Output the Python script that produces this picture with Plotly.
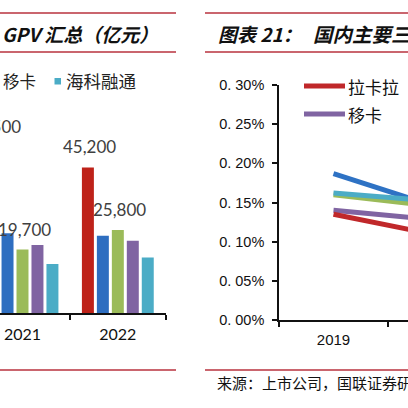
import plotly.graph_objects as go

W = H = 408

# ---------- Left chart: GPV 汇总（亿元） ----------
gpv_years = ["2021", "2022"]
gpv_names = ["拉卡拉", "汇付天下", "随行付", "移卡", "海科融通"]
gpv_lakala = [51500, 45200]
gpv_huifu = [24800, 24000]
gpv_suixingfu = [19700, 25800]
gpv_yika = [21100, 22400]
gpv_haike = [15200, 17200]
gpv_series = [gpv_lakala, gpv_huifu, gpv_suixingfu, gpv_yika, gpv_haike]
gpv_colors = ["#BE2219", "#2E6EC0", "#9BBB59", "#8064A2", "#4BACC6"]
gpv_labeled = [True, False, True, False, False]

# ---------- Right chart: 国内主要三方支付机构费率 ----------
rate_years = ["2019", "2020"]
rate_names = ["汇付天下", "随行付", "海科融通", "移卡", "拉卡拉"]
rate_huifu = [0.187, 0.142]
rate_suixingfu = [0.160, 0.144]
rate_haike = [0.162, 0.151]
rate_yika = [0.140, 0.127]
rate_lakala = [0.135, 0.107]
rate_series = [rate_huifu, rate_suixingfu, rate_haike, rate_yika, rate_lakala]
rate_colors = ["#2E72C4", "#9BBB59", "#4BACC6", "#8064A2", "#C0282A"]
rate_tickvals = [0, 0.05, 0.10, 0.15, 0.20, 0.25, 0.30]
rate_ticktext = ["0. 00%", "0. 05%", "0. 10%", "0. 15%", "0. 20%", "0. 25%", "0. 30%"]


def px_x(x):
    return x / W


def px_y(y):
    return 1 - y / H


CJK = "Noto Sans CJK SC"
RULE = "#B8323E"

fig = go.Figure()

# bars
for name, vals, col in zip(gpv_names, gpv_series, gpv_colors):
    fig.add_trace(go.Bar(x=gpv_years, y=vals, name=name, marker_color=col,
                         marker_line_width=0, xaxis="x", yaxis="y", showlegend=False))

# lines
for name, vals, col in zip(rate_names, rate_series, rate_colors):
    fig.add_trace(go.Scatter(x=rate_years, y=vals, name=name, mode="lines",
                             line=dict(color=col, width=5), xaxis="x2", yaxis="y2",
                             showlegend=False))

# left axes geometry
L_dom = [0, 165.5]
L_range = [-0.236, 1.5]
bargap, bargroupgap = 0.215, 0.2
cat_px = (L_dom[1] - L_dom[0]) / (L_range[1] - L_range[0])
slot_px = cat_px * (1 - bargap) / len(gpv_series)

annotations = []
for i, (vals, lab) in enumerate(zip(gpv_series, gpv_labeled)):
    if not lab:
        continue
    for j, v in enumerate(vals):
        annotations.append(dict(
            x=j, y=v, xref="x", yref="y", text=f"{v:,}", showarrow=False,
            xanchor="center", yanchor="bottom",
            xshift=(i - (len(gpv_series) - 1) / 2) * slot_px + 2, yshift=8,
            font=dict(family="Lato", size=17, color="#404040")))

# titles
annotations.append(dict(x=px_x(0), y=px_y(33), xref="paper", yref="paper",
                        text="<b><i>GPV 汇总（亿元）</i></b>", showarrow=False,
                        xanchor="left", yanchor="middle",
                        font=dict(family=CJK, size=19, color="#111111")))
annotations.append(dict(x=px_x(216), y=px_y(33), xref="paper", yref="paper",
                        text="<b><i>图表 21：</i></b>", showarrow=False,
                        xanchor="left", yanchor="middle",
                        font=dict(family=CJK, size=19, color="#111111")))
annotations.append(dict(x=px_x(311), y=px_y(33), xref="paper", yref="paper",
                        text="<b><i>国内主要三方支付机构费率</i></b>", showarrow=False,
                        xanchor="left", yanchor="middle",
                        font=dict(family=CJK, size=19.5, color="#111111")))

# left legend (partial)
annotations.append(dict(x=px_x(1), y=px_y(81), xref="paper", yref="paper",
                        text=gpv_names[3], showarrow=False, xanchor="left", yanchor="middle",
                        font=dict(family=CJK, size=16.5, color="#222222")))
annotations.append(dict(x=px_x(64), y=px_y(81), xref="paper", yref="paper",
                        text=gpv_names[4], showarrow=False, xanchor="left", yanchor="middle",
                        font=dict(family=CJK, size=17.5, color="#222222")))

# right legend
annotations.append(dict(x=px_x(346), y=px_y(86), xref="paper", yref="paper",
                        text=rate_names[4], showarrow=False, xanchor="left", yanchor="middle",
                        font=dict(family=CJK, size=17, color="#111111")))
annotations.append(dict(x=px_x(346), y=px_y(114), xref="paper", yref="paper",
                        text=rate_names[3], showarrow=False, xanchor="left", yanchor="middle",
                        font=dict(family=CJK, size=17, color="#111111")))

# footer
annotations.append(dict(x=px_x(215), y=px_y(382), xref="paper", yref="paper",
                        text="来源：上市公司，国联证券研究所", showarrow=False,
                        xanchor="left", yanchor="middle",
                        font=dict(family=CJK, size=15, color="#111111")))

shapes = []
for y in (13, 52, 370):
    shapes.append(dict(type="line", xref="paper", yref="paper",
                       x0=px_x(0), x1=px_x(176), y0=px_y(y), y1=px_y(y),
                       line=dict(color=RULE, width=1.5)))
    shapes.append(dict(type="line", xref="paper", yref="paper",
                       x0=px_x(205), x1=px_x(410), y0=px_y(y), y1=px_y(y),
                       line=dict(color=RULE, width=1.5)))
# legend swatches
shapes.append(dict(type="rect", xref="paper", yref="paper",
                   x0=px_x(54.5), x1=px_x(61), y0=px_y(84.5), y1=px_y(78),
                   fillcolor=gpv_colors[4], line=dict(width=0)))
shapes.append(dict(type="line", xref="paper", yref="paper",
                   x0=px_x(304), x1=px_x(345), y0=px_y(86), y1=px_y(86),
                   line=dict(color=rate_colors[4], width=5)))
shapes.append(dict(type="line", xref="paper", yref="paper",
                   x0=px_x(304), x1=px_x(345), y0=px_y(114), y1=px_y(114),
                   line=dict(color=rate_colors[3], width=5)))

L_base, L_top = 313, 100
px_per_unit = 3.22 / 1000
fig.update_layout(
    width=W, height=H, margin=dict(l=0, r=0, t=0, b=0, autoexpand=False),
    paper_bgcolor="white", plot_bgcolor="white",
    barmode="group", bargap=bargap, bargroupgap=bargroupgap,
    showlegend=False,
    xaxis=dict(domain=[px_x(L_dom[0]), px_x(L_dom[1])], type="category",
               categoryorder="array", categoryarray=gpv_years, range=L_range,
               showline=True, linecolor="#111111", linewidth=1.5,
               ticks="outside", tickson="boundaries", ticklen=5, tickcolor="#111111",
               tickwidth=1.5, showgrid=False, zeroline=False,
               tickfont=dict(family="Lato", size=16, color="#111111"),
               ticklabelstandoff=6, anchor="y"),
    yaxis=dict(domain=[px_y(L_base), px_y(L_top)],
               range=[0, (L_base - L_top) / px_per_unit],
               showline=False, showticklabels=False, ticks="", showgrid=False,
               zeroline=False, anchor="x"),
    xaxis2=dict(domain=[px_x(279), 1], type="category",
                categoryorder="array", categoryarray=rate_years,
                range=[-0.5, -0.5 + (408 - 279) / 109.0],
                showline=True, linecolor="#111111", linewidth=1.5,
                ticks="outside", tickson="boundaries", ticklen=5, tickcolor="#111111",
                tickwidth=1.5, showgrid=False, zeroline=False,
                tickfont=dict(family="Liberation Sans", size=15, color="#111111"),
                ticklabelstandoff=5, anchor="y2"),
    yaxis2=dict(domain=[px_y(320), px_y(85)], range=[0, 0.30],
                tickvals=rate_tickvals, ticktext=rate_ticktext,
                showline=True, linecolor="#111111", linewidth=1.5,
                ticks="outside", ticklen=5, tickcolor="#111111", tickwidth=1.5,
                showgrid=False, zeroline=False,
                tickfont=dict(family="Liberation Sans", size=14.5, color="#111111"),
                ticklabelstandoff=5, anchor="x2"),
    annotations=annotations, shapes=shapes,
)

fig.write_html("out.html", config={"displayModeBar": False},
               post_script="document.body.style.margin='0';")
